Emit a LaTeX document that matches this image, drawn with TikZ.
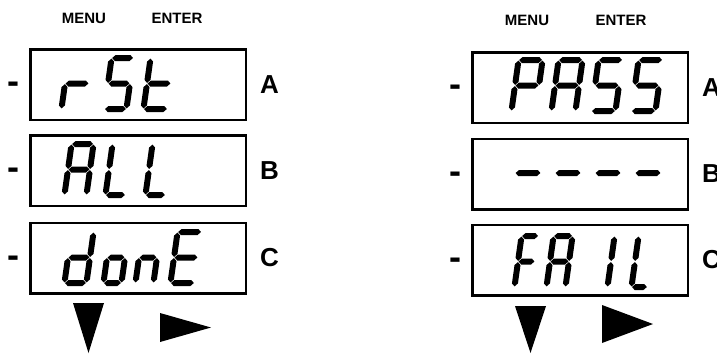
\documentclass[tikz,border=0pt]{standalone}
\usepackage{fontspec}
\setmainfont{Liberation Sans}
\usetikzlibrary{positioning}

\newcommand{\hseg}[1]{(3.6,#1) -- (6.6,#1-3) -- (\segw-6.6,#1-3) -- (\segw-3.6,#1) -- (\segw-6.6,#1+3) -- (6.6,#1+3) -- cycle}
\newcommand{\vseg}[3]{(#1,#2) -- (#1+3,#2+3) -- (#1+3,#3-3) -- (#1,#3) -- (#1-3,#3-3) -- (#1-3,#2+3) -- cycle}
\newcommand{\sega}{\hseg{3}}
\newcommand{\segg}{\hseg{28.5}}
\newcommand{\segd}{\hseg{54}}
\newcommand{\segf}{\vseg{3}{3.6}{27.9}}
\newcommand{\sege}{\vseg{3}{29.1}{53.4}}
\newcommand{\segb}{\vseg{\segw-3}{3.6}{27.9}}
\newcommand{\segc}{\vseg{\segw-3}{29.1}{53.4}}
\newcommand{\lcdchar}[4]{%
    \begin{scope}[shift={(#1,#2)}, xslant=0.14]
        \def\segw{#3}
        \foreach \s in {#4} {\expandafter\fill\csname seg\s\endcsname;}
    \end{scope}}

\begin{document}
\begin{tikzpicture}[
    x=1pt, y=-1pt,
    lcdbox/.style={draw, line width=2.5pt, minimum width=215.5pt, minimum height=70.5pt, inner sep=0pt},
    keylabel/.style={font=\fontsize{15}{18}\selectfont\bfseries},
    rowlabel/.style={font=\fontsize{26}{30}\selectfont\bfseries, inner sep=0pt},
    rowdash/.style={font=\fontsize{36}{40}\selectfont\bfseries, inner sep=0pt, yshift=-3.4pt}
]
\useasboundingbox (0,0) rectangle (717,354);

\node[keylabel] (menuL) at (84, 18) {MENU};
\node[keylabel] (enterL) at (177, 18) {ENTER};

\node[lcdbox] (rstbox) at (138, 84.5) {};
\node[lcdbox] (allbox) at (138, 170.5) {};
\node[lcdbox] (donebox) at (138, 258) {};

\node[rowdash, left=9.5pt of rstbox] (rstdash) {-};
\node[rowdash, left=9.5pt of allbox] (alldash) {-};
\node[rowdash, left=9.5pt of donebox] (donedash) {-};
\node[rowlabel, right=13pt of rstbox] (rstrow) {A};
\node[rowlabel, right=13pt of allbox] (allrow) {B};
\node[rowlabel, right=13pt of donebox] (donerow) {C};

\lcdchar{66}{55}{30}{e,g}
\lcdchar{109}{55}{28}{a,f,g,c,d}
\lcdchar{148}{55}{30}{f,e,g,d}

\lcdchar{69}{141}{28}{a,b,c,e,f,g}
\lcdchar{110}{141}{26}{f,e,d}
\lcdchar{150}{141}{26}{f,e,d}

\lcdchar{69}{229}{28}{b,c,d,e,g}
\lcdchar{108}{229}{24}{c,d,e,g}
\lcdchar{140}{229}{24}{c,e,g}
\lcdchar{175}{229}{30}{a,d,e,f,g}

\fill (73,303) -- (104,303) -- (88.5,353) -- cycle;
\fill (160,313) -- (160,342) -- (211,327.5) -- cycle;

\node[keylabel] (menuR) at (527, 20) {MENU};
\node[keylabel] (enterR) at (621, 20) {ENTER};

\node[lcdbox] (passbox) at (580, 87.5) {};
\node[lcdbox] (dashbox) at (580, 174) {};
\node[lcdbox] (failbox) at (580, 260) {};

\node[rowdash, left=9.5pt of passbox] (passdash) {-};
\node[rowdash, left=9.5pt of dashbox] (dashdash) {-};
\node[rowdash, left=9.5pt of failbox] (faildash) {-};
\node[rowlabel, right=13pt of passbox] (passrow) {A};
\node[rowlabel, right=13pt of dashbox] (dashrow) {B};
\node[rowlabel, right=13pt of failbox] (failrow) {C};

\lcdchar{516}{57}{30}{a,b,e,f,g}
\lcdchar{556}{57}{30}{a,b,c,e,f,g}
\lcdchar{596}{57}{30}{a,f,g,c,d}
\lcdchar{636}{57}{30}{a,f,g,c,d}

\foreach \x in {516,556,596,636}
    \lcdchar{\x}{144.5}{32}{g};

\lcdchar{519}{233}{23}{a,e,f,g}
\lcdchar{551}{233}{25}{a,b,c,e,f,g}
\lcdchar{612}{233}{10}{e,f}
\lcdchar{636}{233}{22}{e,f,d}

\fill (515,306) -- (546,306) -- (530.5,353) -- cycle;
\fill (602,305) -- (602,343) -- (653,324) -- cycle;

\end{tikzpicture}
\end{document}
